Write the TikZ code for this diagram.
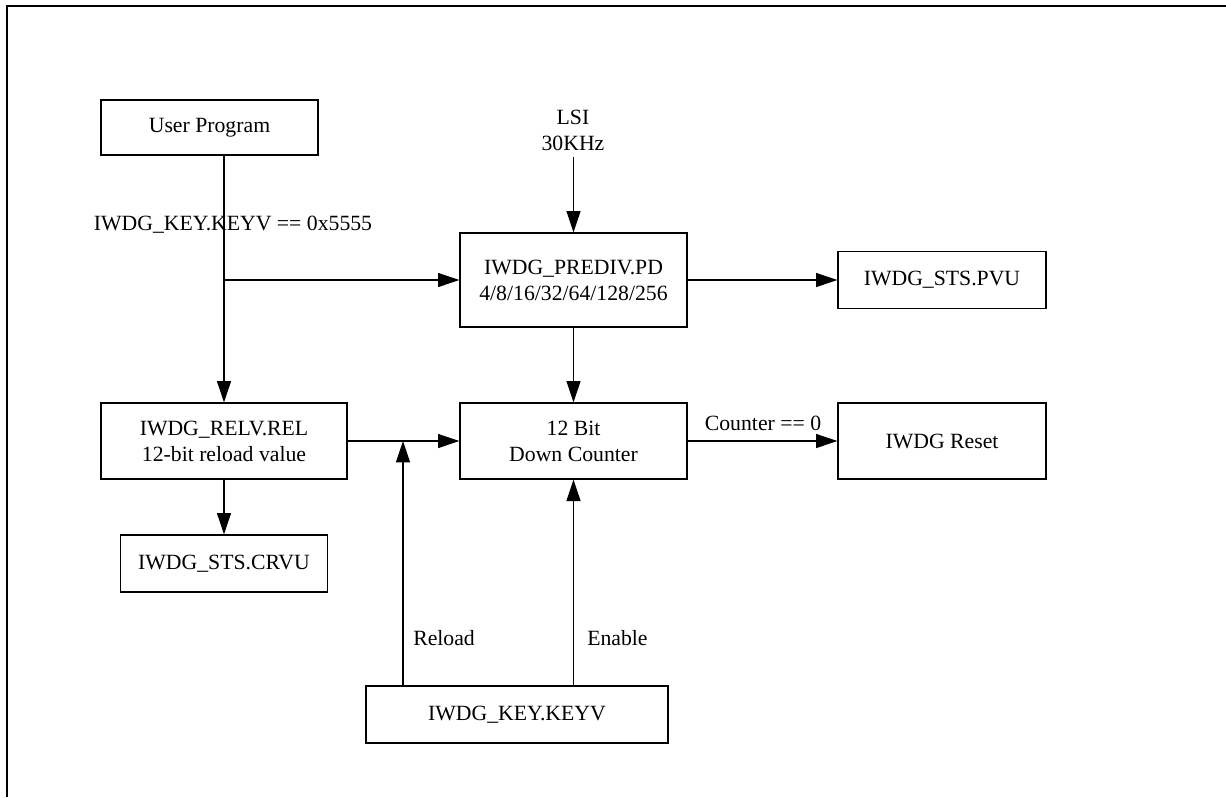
\documentclass[tikz,border=0pt]{standalone}
\usepackage{fontspec}
\setmainfont{Liberation Serif}
\usetikzlibrary{arrows.meta}
\begin{document}
\begin{tikzpicture}[x=0.75pt,y=-0.75pt,
  font=\fontsize{16.3}{19.5}\selectfont,
  box/.style={draw,line width=1pt,rectangle,align=center,inner sep=0pt},
  conn/.style={line width=1pt},
  arr/.style={line width=1pt,-{Triangle[length=16pt,width=10.5pt]}},
  lbl/.style={inner sep=0pt,align=center}]
\useasboundingbox (0,0) rectangle (1226,797);
\draw[line width=2pt] (7,797) -- (7,6) -- (1226,6);
% boxes
\node[box,minimum width=162.75pt,minimum height=41.25pt] (user) at (209.5,127.5) {User Program};
\node[box,minimum width=170.25pt,minimum height=70.5pt] (prediv) at (573.5,280) {IWDG\_PREDIV.PD\\4/8/16/32/64/128/256};
\node[box,minimum width=156pt,minimum height=42.75pt] (pvu) at (942,280) {IWDG\_STS.PVU};
\node[box,minimum width=170.25pt,minimum height=57pt] (counter) at (573.5,441) {12 Bit\\Down Counter};
\node[box,minimum width=156pt,minimum height=57pt] (reset) at (942,441) {IWDG Reset};
\node[box,minimum width=184.5pt,minimum height=57pt] (relv) at (224,441) {IWDG\_RELV.REL\\12-bit reload value};
\node[box,minimum width=155.25pt,minimum height=42.75pt] (crvu) at (224,563.5) {IWDG\_STS.CRVU};
\node[box,minimum width=226.5pt,minimum height=42.75pt] (keyv) at (517,714.5) {IWDG\_KEY.KEYV};
% labels
\node[lbl] (lsi) at (573,130) {LSI\\30KHz};
\node[lbl] (keylbl) at (233,225) {IWDG\_KEY.KEYV == 0x5555};
\node[lbl] (cntlbl) at (763,423) {Counter == 0};
\node[lbl,anchor=west] (reloadlbl) at (413,638) {Reload};
\node[lbl,anchor=west] (enablelbl) at (587,638) {Enable};
% coordinates
\coordinate (lsiend) at (573.5,157);
\coordinate (j1) at (relv.north |- prediv.west);
\coordinate (j2) at (403,441);
% connectors
\draw[arr] (user.south -| relv.north) -- (relv.north);
\draw[arr] (j1) -- (prediv.west);
\draw[arr] (lsiend) -- (prediv.north);
\draw[arr] (prediv.east) -- (pvu.west);
\draw[arr] (prediv.south) -- (counter.north);
\draw[arr] (counter.east) -- (reset.west);
\draw[arr] (relv.east) -- (counter.west);
\draw[arr] (relv.south) -- (crvu.north);
\draw[arr] (keyv.north -| j2) -- (j2);
\draw[arr] (keyv.north -| counter.south) -- (counter.south);
\end{tikzpicture}
\end{document}
